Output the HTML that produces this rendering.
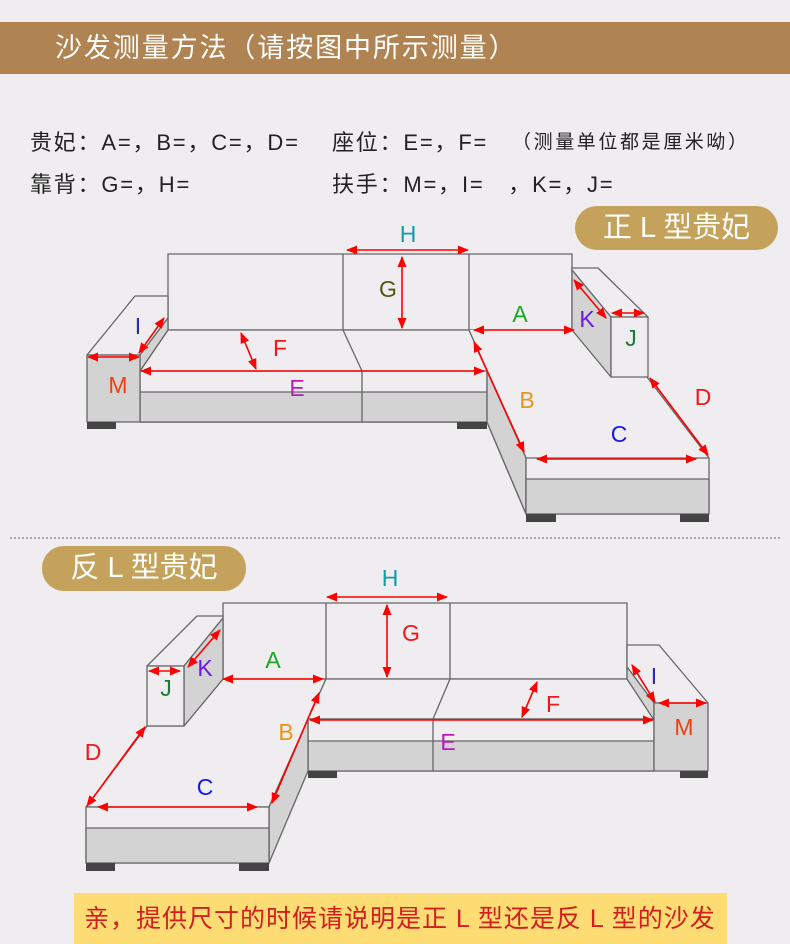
<!DOCTYPE html>
<html><head><meta charset="utf-8"><style>
html,body{margin:0;padding:0;background:#efedf0;}
body{width:790px;height:944px;position:relative;overflow:hidden;font-family:"Liberation Sans","Noto Sans CJK SC",sans-serif;}
.t{position:absolute;white-space:nowrap;}
</style></head><body>
<div style="position:absolute;left:0;top:22px;width:790px;height:52px;background:#b08352;"></div>
<div class="t" style="left:55px;top:30px;font-size:27px;color:#fff;line-height:36px;letter-spacing:1.9px;">沙发测量方法（请按图中所示测量）</div>
<div class="t" style="left:30px;top:128px;font-size:22px;color:#222;line-height:30px;letter-spacing:1.8px;">贵妃：A=，B=，C=，D=</div>
<div class="t" style="left:332px;top:128px;font-size:22px;color:#222;line-height:30px;letter-spacing:1.8px;">座位：E=，F=</div>
<div class="t" style="left:512px;top:128px;font-size:19px;color:#222;line-height:30px;letter-spacing:2.6px;">（测量单位都是厘米呦）</div>
<div class="t" style="left:30px;top:170px;font-size:22px;color:#222;line-height:30px;letter-spacing:1.8px;">靠背：G=，H=</div>
<div class="t" style="left:332px;top:170px;font-size:22px;color:#222;line-height:30px;letter-spacing:1.8px;">扶手：M=，I=&nbsp;&nbsp;&nbsp;，K=，J=</div>
<div style="position:absolute;left:575px;top:206px;width:203px;height:44px;border-radius:22px;background:#c5a25b;"></div>
<div class="t" style="left:575px;top:206px;width:203px;text-align:center;font-size:29px;color:#fff;line-height:44px;">正 L 型贵妃</div>
<div style="position:absolute;left:10px;top:537px;width:770px;border-top:2px dotted #aaa;"></div>
<div style="position:absolute;left:42px;top:546px;width:204px;height:45px;border-radius:22px;background:#c5a25b;"></div>
<div class="t" style="left:42px;top:546px;width:204px;text-align:center;font-size:29px;color:#fff;line-height:45px;">反 L 型贵妃</div>
<div style="position:absolute;left:74px;top:893px;width:653px;height:51px;background:#fddc74;"></div>
<div class="t" style="left:84px;top:900px;font-size:25px;color:#d21e1e;line-height:38px;letter-spacing:1px;">亲，提供尺寸的时候请说明是正 L 型还是反 L 型的沙发</div>

<svg width="790" height="944" style="position:absolute;left:0;top:0" xmlns="http://www.w3.org/2000/svg">
<defs>
<marker id="a" viewBox="0 0 10 10" refX="9" refY="5" markerWidth="7" markerHeight="7" orient="auto-start-reverse"><path d="M0,1 L10,5 L0,9 z" fill="#f00"/></marker>
</defs>
<g stroke="#666" stroke-width="1.3" stroke-linejoin="round">
<rect x="168" y="254" width="404" height="76" fill="#efedf0"/>
<line x1="343" y1="254" x2="343" y2="330"/><line x1="469" y1="254" x2="469" y2="330"/>
<polygon points="168,330 469,330 526,458 526,514 487,422 140,422 140,371" fill="#efedf0"/>
<polygon points="140,371 487,371 487,422 140,422" fill="#efedf0"/>
<polygon points="140,392 487,392 487,422 140,422" fill="#d3d3d3"/>
<line x1="343" y1="330" x2="362" y2="371"/><line x1="362" y1="371" x2="362" y2="422"/>
<polygon points="469,330 526,458 709,458 647,377 611,377 611,330" fill="#efedf0" stroke="none"/>
<line x1="469" y1="330" x2="526" y2="458"/>
<line x1="647" y1="377" x2="709" y2="458"/>
<polygon points="487,371 526,458 526,514 487,422" fill="#d3d3d3"/>
<rect x="526" y="458" width="183" height="56" fill="#efedf0"/>
<rect x="526" y="479" width="183" height="35" fill="#d3d3d3"/>
<polygon points="87,355 135,296 168,296 168,318 140,355" fill="#efedf0"/>
<polygon points="140,355 168,318 168,330 140,371" fill="#d3d3d3"/>
<rect x="87" y="355" width="53" height="67" fill="#d3d3d3"/>
<polygon points="572,268 598,268 648,317 611,317 572,270" fill="#efedf0"/>
<polygon points="572,270 611,317 611,377 572,330" fill="#d3d3d3"/>
<rect x="611" y="317" width="37" height="60" fill="#efedf0"/>
<rect x="223" y="603" width="404" height="76" fill="#efedf0"/>
<line x1="326" y1="603" x2="326" y2="679"/><line x1="450" y1="603" x2="450" y2="679"/>
<polygon points="184,726 223,679 326,679 269,807 86,807 147,726" fill="#efedf0"/>
<polygon points="326,679 627,679 654,719 308,719" fill="#efedf0"/>
<line x1="450" y1="679" x2="433" y2="719"/>
<rect x="308" y="719" width="346" height="52" fill="#efedf0"/>
<rect x="308" y="741" width="346" height="30" fill="#d3d3d3"/>
<line x1="433" y1="719" x2="433" y2="771"/>
<polygon points="308,719 308,771 269,863 269,807" fill="#d3d3d3"/>
<rect x="86" y="807" width="183" height="56" fill="#efedf0"/>
<rect x="86" y="828" width="183" height="35" fill="#d3d3d3"/>
<polygon points="147,666 197,616 223,616 223,618 184,666" fill="#efedf0"/>
<polygon points="184,666 223,618 223,679 184,726" fill="#d3d3d3"/>
<rect x="147" y="666" width="37" height="60" fill="#efedf0"/>
<polygon points="627,645 659,645 708,703 654,703 627,667" fill="#efedf0"/>
<polygon points="627,667 654,703 654,720 627,679" fill="#d3d3d3"/>
<rect x="654" y="703" width="54" height="68" fill="#d3d3d3"/>
</g>
<g fill="#444">
<rect x="87" y="422" width="29" height="7"/><rect x="457" y="422" width="30" height="7"/>
<rect x="526" y="514" width="30" height="8"/><rect x="680" y="514" width="29" height="8"/>
<rect x="308" y="771" width="29" height="7"/><rect x="680" y="771" width="28" height="7"/>
<rect x="86" y="863" width="29" height="8"/><rect x="239" y="863" width="30" height="8"/>
</g>
<g stroke="#f00" stroke-width="1.6" marker-start="url(#a)" marker-end="url(#a)">
<line x1="347" y1="250" x2="468" y2="250"/>
<line x1="402" y1="257" x2="402" y2="328"/>
<line x1="474" y1="330" x2="574" y2="330"/>
<line x1="241" y1="333" x2="256" y2="369"/>
<line x1="141" y1="371" x2="484" y2="371"/>
<line x1="164" y1="318" x2="139" y2="353"/>
<line x1="88" y1="357" x2="139" y2="357"/>
<line x1="574" y1="280" x2="606" y2="318"/>
<line x1="612" y1="313" x2="644" y2="313"/>
<line x1="474" y1="342" x2="524" y2="452"/>
<line x1="537" y1="459" x2="696" y2="459"/>
<line x1="650" y1="378" x2="708" y2="455"/>
<line x1="327" y1="597" x2="447" y2="597"/>
<line x1="387" y1="605" x2="387" y2="677"/>
<line x1="223" y1="679" x2="323" y2="679"/>
<line x1="220" y1="630" x2="188" y2="667"/>
<line x1="149" y1="671" x2="180" y2="671"/>
<line x1="145" y1="727" x2="87" y2="806"/>
<line x1="98" y1="807" x2="257" y2="807"/>
<line x1="319" y1="693" x2="272" y2="803"/>
<line x1="310" y1="720" x2="653" y2="720"/>
<line x1="537" y1="682" x2="522" y2="717"/>
<line x1="632" y1="665" x2="655" y2="702"/>
<line x1="659" y1="703" x2="706" y2="703"/>
</g>
<g font-family="Liberation Sans, sans-serif" font-size="23" text-anchor="middle">
<text x="408" y="242" fill="#129ca8">H</text>
<text x="388" y="297" fill="#4d5a12">G</text>
<text x="520" y="322" fill="#1aa824">A</text>
<text x="280" y="356" fill="#f01818">F</text>
<text x="297" y="396" fill="#c018b8">E</text>
<text x="138" y="334" fill="#2a2ab0">I</text>
<text x="118" y="393" fill="#f04010">M</text>
<text x="587" y="327" fill="#6a18e8">K</text>
<text x="631" y="346" fill="#1a7a3a">J</text>
<text x="527" y="408" fill="#e8941a">B</text>
<text x="619" y="442" fill="#1818e8">C</text>
<text x="703" y="405" fill="#f01818">D</text>
<text x="390" y="586" fill="#129ca8">H</text>
<text x="411" y="641" fill="#f01818">G</text>
<text x="273" y="668" fill="#1aa824">A</text>
<text x="205" y="676" fill="#6a18e8">K</text>
<text x="166" y="696" fill="#1a7a3a">J</text>
<text x="93" y="760" fill="#f01818">D</text>
<text x="205" y="795" fill="#1818e8">C</text>
<text x="286" y="740" fill="#e8941a">B</text>
<text x="448" y="750" fill="#c018b8">E</text>
<text x="553" y="712" fill="#f01818">F</text>
<text x="654" y="684" fill="#2a2ab0">I</text>
<text x="684" y="735" fill="#f04010">M</text>
</g>
</svg>
</body></html>
